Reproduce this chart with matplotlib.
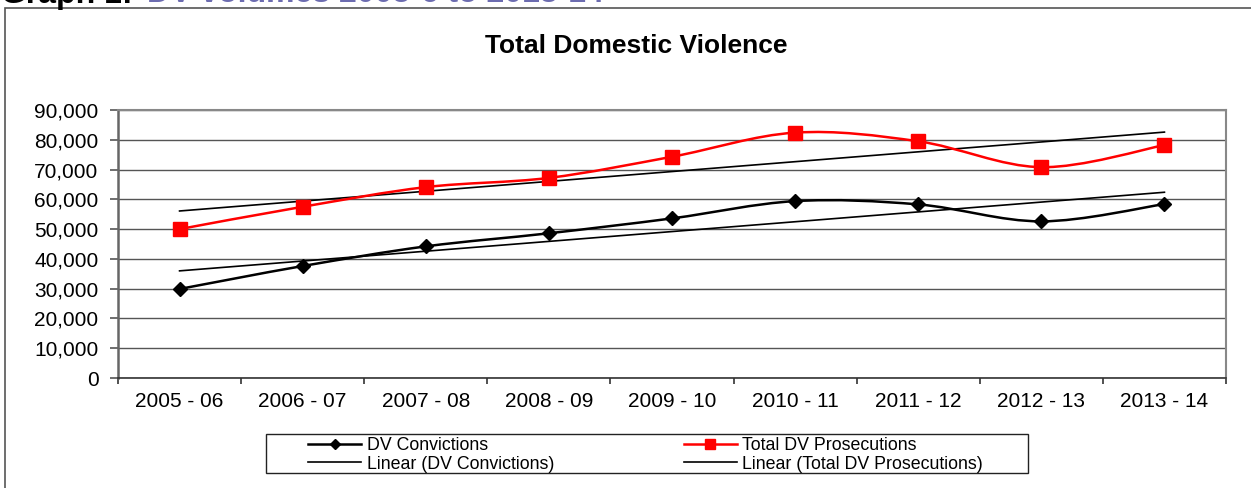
import numpy as np
import matplotlib
matplotlib.use('Agg')
import matplotlib.pyplot as plt
from matplotlib.path import Path
from matplotlib.patches import PathPatch, Rectangle
from matplotlib.lines import Line2D

plt.rcParams['font.family'] = ['Liberation Sans', 'DejaVu Sans']

years = ['2005 - 06', '2006 - 07', '2007 - 08', '2008 - 09', '2009 - 10',
         '2010 - 11', '2011 - 12', '2012 - 13', '2013 - 14']
convictions = [29900, 37600, 44200, 48600, 53600, 59400, 58300, 52600, 58400]
prosecutions = [50000, 57500, 64100, 67200, 74300, 82400, 79500, 70800, 78200]


def smooth_path(xs, ys):
    # excel style smoothed line: bezier through the points
    pts = np.column_stack([xs, ys]).astype(float)
    n = len(pts)
    verts = [pts[0]]
    codes = [Path.MOVETO]
    for i in range(n - 1):
        p0 = pts[max(i - 1, 0)]
        p1 = pts[i]
        p2 = pts[i + 1]
        p3 = pts[min(i + 2, n - 1)]
        c1 = p1 + (p2 - p0) / 6.0
        c2 = p2 - (p3 - p1) / 6.0
        verts += [c1, c2, p2]
        codes += [Path.CURVE4] * 3
    return Path(verts, codes)


fig = plt.figure(figsize=(12.51, 4.88), dpi=100)
ax = fig.add_axes([118 / 1251, 1 - 378 / 488, (1226 - 118) / 1251, 268 / 488])

x = np.arange(len(years))

# trend lines
for data in [convictions, prosecutions]:
    k, b = np.polyfit(x, data, 1)
    ax.plot(x, k * x + b, color='black', lw=1.2, zorder=3)

ax.add_patch(PathPatch(smooth_path(x, convictions), fill=False, edgecolor='black', lw=1.8, zorder=4))
ax.add_patch(PathPatch(smooth_path(x, prosecutions), fill=False, edgecolor='#ff0000', lw=1.8, zorder=4))
ax.plot(x, convictions, ls='none', marker='D', ms=7.5, color='black', zorder=5)
ax.plot(x, prosecutions, ls='none', marker='s', ms=10, color='#ff0000', zorder=5)

ax.set_xlim(-0.5, len(years) - 0.5)
ax.set_ylim(0, 90000)
ax.set_yticks(np.arange(0, 90001, 10000))
ax.set_yticklabels(['{:,}'.format(v) for v in range(0, 90001, 10000)], fontsize=15)
ax.set_xticks(x)
ax.set_xticklabels(years, fontsize=15)
ax.set_xticks(np.arange(-0.5, len(years), 1), minor=True)
ax.tick_params(axis='x', which='major', length=0, pad=10)
ax.tick_params(axis='x', which='minor', length=4, width=1.2, color='#333333', direction='out')
ax.tick_params(axis='y', length=6, width=1.2, color='#555555', pad=8)
ax.grid(axis='y', color='#555555', lw=1)
ax.set_axisbelow(True)
for s in ['top', 'right']:
    ax.spines[s].set_color('#888888')
    ax.spines[s].set_linewidth(1.5)
ax.spines['left'].set_color('#666666')
ax.spines['left'].set_linewidth(1.8)
ax.spines['bottom'].set_color('#333333')
ax.spines['bottom'].set_linewidth(1.2)

fig.text(636.5 / 1251, 1 - 53 / 488, 'Total Domestic Violence', ha='center', va='baseline',
         fontsize=19, fontweight='bold')

# page heading, cut off at the top of the picture
fig.text(1 / 1251, 1 - 2.5 / 488, 'Graph 1:', ha='left', va='baseline', fontsize=23, fontweight='bold')
fig.text(147 / 1251, 1 - 2.5 / 488, 'DV volumes 2005-6 to 2013-14', ha='left', va='baseline',
         fontsize=23, fontweight='bold', color='#6c6cb0')

# outer chart frame
fig.patches.append(Rectangle((4.5 / 1251, -0.1), 1.2, 1 - 8 / 488 + 0.1, transform=fig.transFigure,
                             fill=False, edgecolor='#555555', lw=1.2))

# legend
fig.patches.append(Rectangle((266 / 1251, 1 - 473 / 488), 762 / 1251, 39 / 488, transform=fig.transFigure,
                             fill=False, edgecolor='#222222', lw=1))
handles = [Line2D([], [], color='black', lw=1.8, marker='D', ms=5),
           Line2D([], [], color='black', lw=1.2),
           Line2D([], [], color='#ff0000', lw=1.8, marker='s', ms=7),
           Line2D([], [], color='black', lw=1.2)]
labels = ['DV Convictions', 'Linear (DV Convictions)', 'Total DV Prosecutions', 'Linear (Total DV Prosecutions)']
fig.legend(handles, labels, ncol=2, loc='center left', bbox_to_anchor=(308 / 1251, 1 - 455 / 488),
           frameon=False, fontsize=12.8, numpoints=1, handlelength=3.0, handletextpad=0.3,
           columnspacing=7.3, labelspacing=0.08, borderpad=0, borderaxespad=0)

plt.savefig('out.png', dpi=100)
